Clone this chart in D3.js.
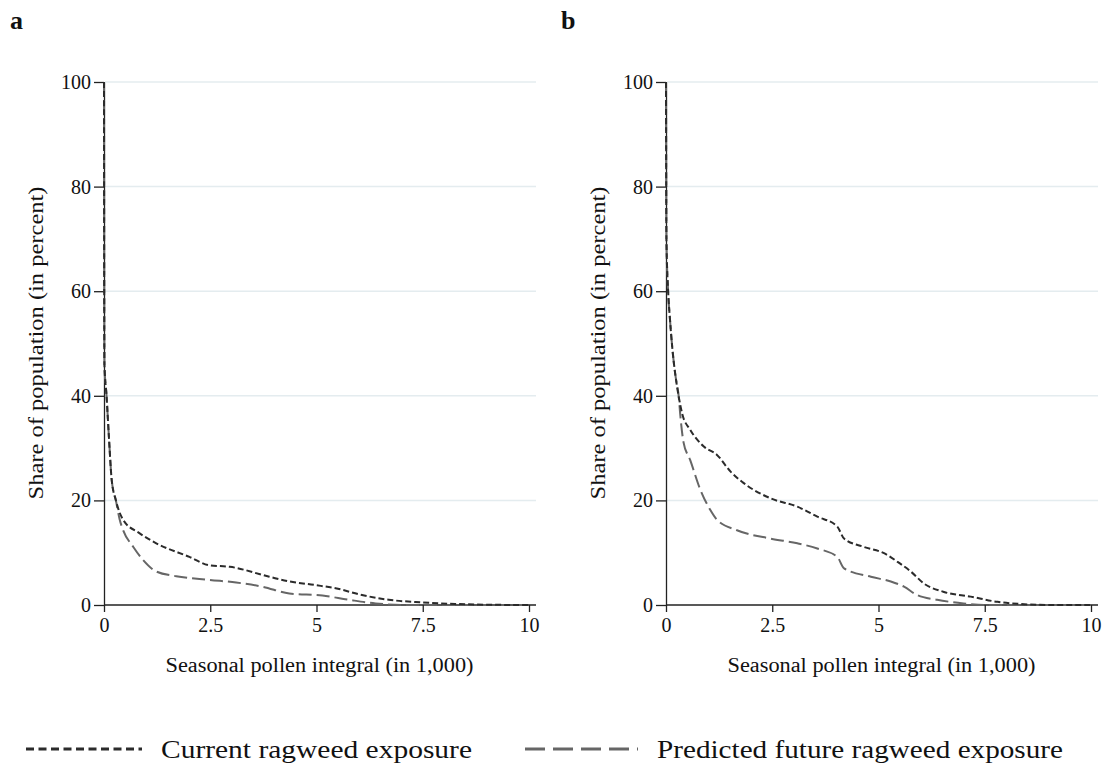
<!DOCTYPE html>
<html>
<head>
<meta charset="utf-8">
<script src="https://cdn.jsdelivr.net/npm/d3@7"></script>
<style>
  body { margin: 0; background: #fff; }
  text { font-family: "Liberation Serif", "Times New Roman", serif; fill: #111; }
</style>
</head>
<body>
<div id="chart"></div>
<script>
// seasonal pollen integral (in 1,000) vs share of population (percent)
var xTicks = [0, 2.5, 5, 7.5, 10];
var yTicks = [0, 20, 40, 60, 80, 100];

var aCurrentX = [0, 0.005, 0.01, 0.06, 0.12, 0.18, 0.28, 0.45, 0.84, 1.23, 2.01, 2.48, 2.96, 3.89, 4.36, 4.98, 5.45, 6.07, 6.7, 7.48, 8.26, 9.04, 10];
var aCurrentY = [100, 60, 46, 40, 31.5, 24, 20, 16.3, 13.7, 11.8, 9.2, 7.6, 7.3, 5.4, 4.5, 3.8, 3.2, 1.9, 1.0, 0.5, 0.2, 0.05, 0];
var aFutureX = [0, 0.005, 0.01, 0.06, 0.12, 0.18, 0.28, 0.37, 0.45, 0.69, 0.92, 1.23, 1.7, 2.48, 3.11, 3.73, 4.36, 5.14, 5.76, 6.39, 7.17, 10];
var aFutureY = [100, 60, 46, 40, 31.5, 24, 20, 16.3, 14.3, 11.1, 8.6, 6.4, 5.5, 4.8, 4.3, 3.5, 2.2, 1.8, 1.0, 0.3, 0, 0];

var bCurrentX = [0, 0.01, 0.05, 0.09, 0.15, 0.22, 0.3, 0.38, 0.57, 0.89, 1.2, 1.52, 1.83, 2.46, 3.09, 3.56, 4.03, 4.19, 4.66, 5.13, 5.44, 5.76, 6.07, 6.54, 7.17, 7.8, 8.43, 9.06, 10];
var bCurrentY = [100, 70, 60, 55, 49, 44, 39.8, 36.6, 33.5, 30.3, 28.7, 25.5, 23.3, 20.4, 18.8, 16.9, 15.0, 12.7, 11.1, 9.9, 8.3, 6.4, 4.1, 2.5, 1.6, 0.6, 0.15, 0, 0];
var bFutureX = [0, 0.01, 0.05, 0.09, 0.15, 0.22, 0.3, 0.34, 0.41, 0.57, 0.81, 1.04, 1.2, 1.67, 2.46, 3.09, 3.56, 4.03, 4.19, 4.82, 5.29, 5.6, 5.91, 6.38, 7.0, 7.5, 10];
var bFutureY = [100, 70, 60, 55, 49, 44, 39.8, 36, 31.2, 27.7, 22, 18.2, 16.3, 14.3, 12.7, 11.8, 10.8, 9.2, 7.0, 5.4, 4.5, 3.5, 1.9, 1.0, 0.3, 0, 0];

var seriesNames = ["Current ragweed exposure", "Predicted future ragweed exposure"];
var xTitle = "Seasonal pollen integral (in 1,000)";
var yTitle = "Share of population (in percent)";

var panels = [
  { label: "a", labelX: 10, left: 104, current: [aCurrentX, aCurrentY], future: [aFutureX, aFutureY] },
  { label: "b", labelX: 561, left: 666, current: [bCurrentX, bCurrentY], future: [bFutureX, bFutureY] }
];

var currentStyle = { color: "#2b2b2b", dash: "6,3", legendDash: "8,4.5", width: 2 };
var futureStyle = { color: "#666", dash: "13,5", legendDash: "20,8", width: 2 };

var width = 1105, height = 771;
var plotTop = 82, plotBottom = 605, plotW = 425;

var svg = d3.select("#chart").append("svg")
  .attr("width", width)
  .attr("height", height);

function toPoints(s) {
  return s[0].map(function(x, i) { return [x, s[1][i]]; });
}

panels.forEach(function(p) {
  var x = d3.scaleLinear().domain([0, 10]).range([p.left, p.left + plotW]);
  var y = d3.scaleLinear().domain([0, 100]).range([plotBottom, plotTop]);
  var g = svg.append("g");

  g.append("text")
    .attr("x", p.labelX)
    .attr("y", 29)
    .attr("font-size", 26)
    .attr("font-weight", "bold")
    .text(p.label);

  // gridlines
  g.append("g").selectAll("line")
    .data(yTicks.filter(function(d) { return d > 0; }))
    .enter().append("line")
    .attr("x1", p.left + 1)
    .attr("x2", p.left + plotW + 7)
    .attr("y1", function(d) { return y(d); })
    .attr("y2", function(d) { return y(d); })
    .attr("stroke", "#e4ecef")
    .attr("stroke-width", 1.5);

  var line = d3.line()
    .x(function(d) { return x(d[0]); })
    .y(function(d) { return y(d[1]); })
    .curve(d3.curveMonotoneX);

  var xAxis = g.append("g")
    .attr("transform", "translate(0," + plotBottom + ")")
    .call(d3.axisBottom(x).tickValues(xTicks).tickSize(7).tickPadding(6)
      .tickFormat(function(d) { return d; }));
  xAxis.select(".domain").attr("d", "M" + p.left + ",0H" + (p.left + plotW + 7));
  xAxis.selectAll("text").attr("font-size", 20).attr("font-family", "Liberation Serif, serif").attr("fill", "#111");
  xAxis.selectAll("line, path").attr("stroke", "#222").attr("stroke-width", 1.3);

  var yAxis = g.append("g")
    .attr("transform", "translate(" + p.left + ",0)")
    .call(d3.axisLeft(y).tickValues(yTicks).tickSize(10).tickPadding(3).tickSizeOuter(0));
  yAxis.selectAll("text").attr("font-size", 20).attr("font-family", "Liberation Serif, serif").attr("fill", "#111");
  yAxis.selectAll("line, path").attr("stroke", "#222").attr("stroke-width", 1.3);

  g.append("path")
    .datum(toPoints(p.future))
    .attr("d", line)
    .attr("fill", "none")
    .attr("stroke", futureStyle.color)
    .attr("stroke-width", futureStyle.width)
    .attr("stroke-dasharray", futureStyle.dash);

  g.append("path")
    .datum(toPoints(p.current))
    .attr("d", line)
    .attr("fill", "none")
    .attr("stroke", currentStyle.color)
    .attr("stroke-width", currentStyle.width)
    .attr("stroke-dasharray", currentStyle.dash);

  g.append("text")
    .attr("transform", "translate(" + (p.left - 61) + "," + 343 + ") rotate(-90)")
    .attr("text-anchor", "middle")
    .attr("font-size", 20)
    .attr("textLength", 313)
    .attr("lengthAdjust", "spacingAndGlyphs")
    .text(yTitle);

  g.append("text")
    .attr("x", p.left + plotW / 2 + 3)
    .attr("y", 672)
    .attr("text-anchor", "middle")
    .attr("font-size", 20)
    .attr("textLength", 308)
    .attr("lengthAdjust", "spacingAndGlyphs")
    .text(xTitle);
});

// legend
var legend = svg.append("g");
var legendItems = [
  { name: seriesNames[0], style: currentStyle, x1: 26, x2: 142, tx: 161, len: 311 },
  { name: seriesNames[1], style: futureStyle, x1: 525, x2: 638, tx: 657, len: 406 }
];
legendItems.forEach(function(d) {
  legend.append("line")
    .attr("x1", d.x1).attr("x2", d.x2)
    .attr("y1", 749).attr("y2", 749)
    .attr("stroke", d.style.color)
    .attr("stroke-width", d.style.width + 1)
    .attr("stroke-dasharray", d.style.legendDash);
  legend.append("text")
    .attr("x", d.tx)
    .attr("y", 758)
    .attr("font-size", 26)
    .attr("textLength", d.len)
    .attr("lengthAdjust", "spacingAndGlyphs")
    .text(d.name);
});
</script>
</body>
</html>
